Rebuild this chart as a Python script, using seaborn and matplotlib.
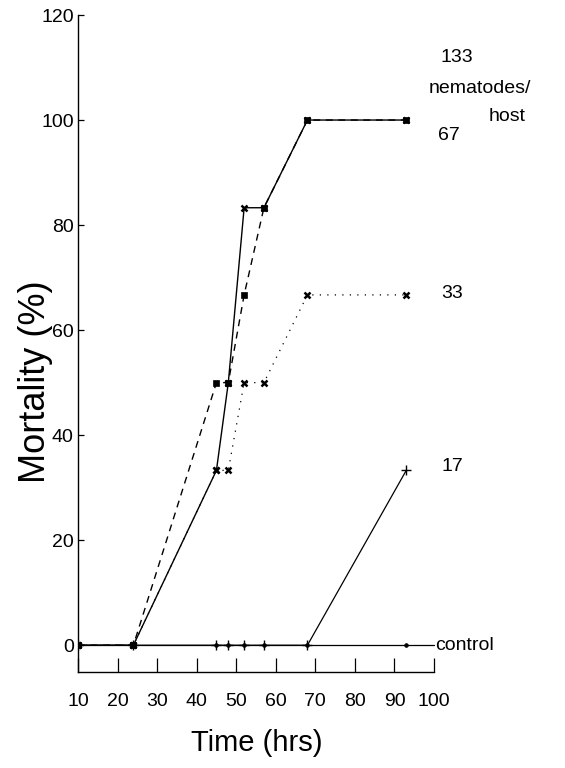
import matplotlib
matplotlib.use("Agg")
import matplotlib.pyplot as plt
import seaborn as sns
import pandas as pd

# ---- data ----
time_hrs = [10, 24, 45, 48, 52, 57, 68, 93]
mort_133 = [0, 0, 33.3, 50, 83.3, 83.3, 100, 100]
mort_67 = [0, 0, 50, 50, 66.7, 83.3, 100, 100]
mort_33 = [0, 0, 33.3, 33.3, 50, 50, 66.7, 66.7]
mort_17 = [0, 0, 0, 0, 0, 0, 0, 33.3]
mort_control = [0, 0, 0, 0, 0, 0, 0, 0]
x_ticks = [10, 20, 30, 40, 50, 60, 70, 80, 90, 100]
y_ticks = [0, 20, 40, 60, 80, 100, 120]

sns.set_theme(style="ticks")
plt.rcParams["font.family"] = ["Liberation Sans", "DejaVu Sans"]
plt.rcParams["text.color"] = "black"

fig = plt.figure(figsize=(5.65, 7.68), dpi=100)
ax = fig.add_axes([78 / 565, 1 - 672 / 768, (434 - 78) / 565, (672 - 15) / 768])

common = dict(ax=ax, color="black", estimator=None, sort=False,
              mec="black", mfc="black")
# control
sns.lineplot(x=time_hrs, y=mort_control, lw=0.9, marker="o", markersize=2.5,
             **common)
ax.plot([time_hrs[-1], 100], [0, 0], color="black", lw=0.9, clip_on=False)
# 17
sns.lineplot(x=time_hrs, y=mort_17, lw=0.9, marker="+", markersize=7,
             mew=1.0, **common)
# 33 dotted
sns.lineplot(x=time_hrs, y=mort_33, lw=0.9, linestyle=(0, (1, 5)),
             marker="x", markersize=5, mew=1.8, **common)
# 67 dashed
sns.lineplot(x=time_hrs, y=mort_67, lw=1.0, linestyle=(0, (5, 4)),
             marker="s", markersize=4, mew=0.5, **common)
# 133 solid
sns.lineplot(x=time_hrs, y=mort_133, lw=1.0, marker="x", markersize=5,
             mew=1.8, **common)

ax.set_xlim(10, 100)
ax.set_ylim(-5.1, 120)
ax.set_xticks(x_ticks)
ax.set_yticks(y_ticks)
ax.tick_params(axis="x", direction="in", length=10, width=0.9, pad=15,
               labelsize=14, colors="black")
ax.tick_params(axis="y", direction="in", length=4, width=0.9, pad=3,
               labelsize=14, colors="black")
for s in ["top", "right"]:
    ax.spines[s].set_visible(False)
for s in ["left", "bottom"]:
    ax.spines[s].set_linewidth(1.0)
    ax.spines[s].set_color("black")
ax.set_xlabel("")
ax.set_ylabel("")

fig.text(36 / 565, 1 - 382 / 768, "Mortality (%)", rotation=90, ha="center",
         va="center", fontsize=26, color="black")
fig.text(257 / 565, 1 - 743 / 768, "Time (hrs)", ha="center", va="center",
         fontsize=21, color="black")

tk = dict(transform=ax.transData, clip_on=False, fontsize=14, va="center",
          color="black")
ax.text(101.6, 112, "133", **tk)
ax.text(98.6, 106, "nematodes/", **tk)
ax.text(123.2, 100.6, "host", ha="right", **tk)
ax.text(100.9, 97, "67", **tk)
ax.text(101.9, 67, "33", **tk)
ax.text(101.9, 34, "17", **tk)
ax.text(100.4, 0, "control", **tk)

fig.savefig("out.png", dpi=100, facecolor="white")
